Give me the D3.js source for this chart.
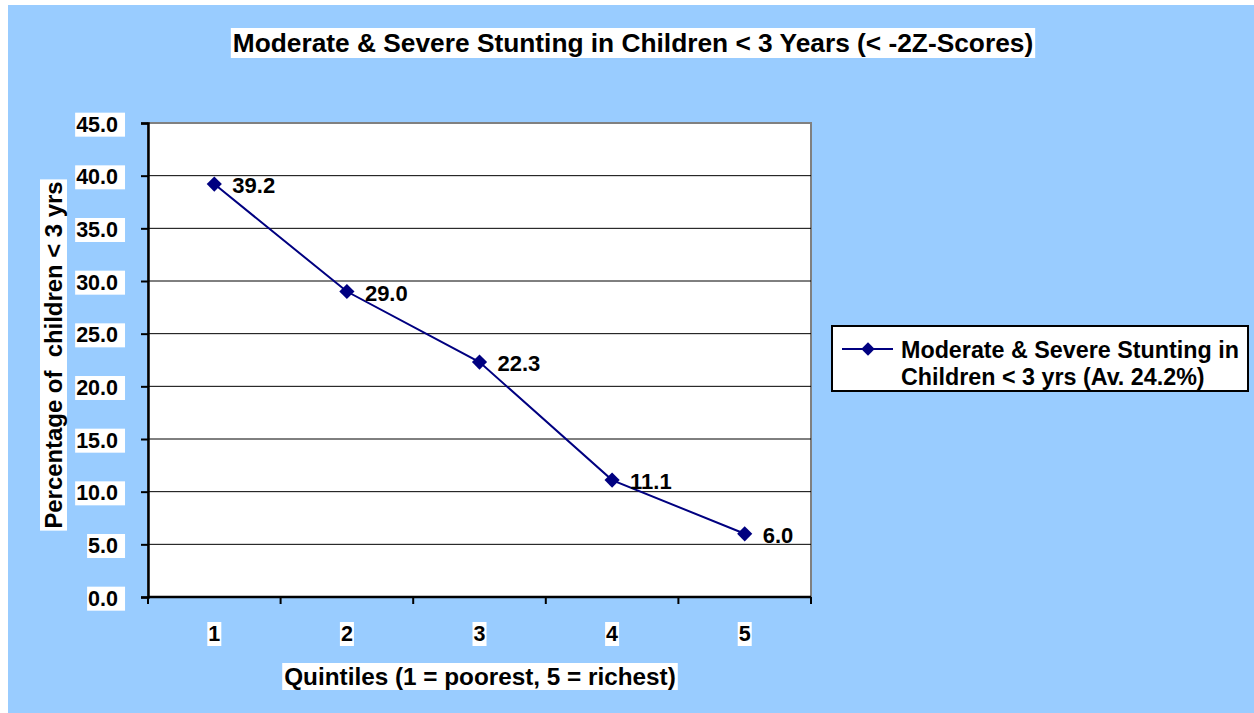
<!DOCTYPE html>
<html lang="en">
<head>
<meta charset="UTF-8">
<title>Moderate & Severe Stunting</title>
<script src="https://d3js.org/d3.v7.min.js"></script>
<style>
  body { margin: 0; background: #fff; }
  text { font-family: "Liberation Sans", Arial, sans-serif; font-weight: bold; fill: #000; }
</style>
</head>
<body>
<div id="chart"></div>
<script>
// data
var quintiles = ["1", "2", "3", "4", "5"];
var stunting = [39.2, 29.0, 22.3, 11.1, 6.0];
var yTicks = [0, 5, 10, 15, 20, 25, 30, 35, 40, 45];
var seriesName = ["Moderate & Severe Stunting in", "Children < 3 yrs (Av. 24.2%)"];
var titleText = "Moderate & Severe Stunting in Children < 3 Years (< -2Z-Scores)";
var yTitle = "Percentage of  children < 3 yrs";
var xTitle = "Quintiles (1 = poorest, 5 = richest)";

var W = 1254, H = 713;
var plot = { left: 148, right: 811, top: 123, bottom: 597 };
var navy = "#000080";

var svg = d3.select("#chart").append("svg")
    .attr("width", W).attr("height", H);

// chart area background
svg.append("rect")
    .attr("x", 8).attr("y", 5).attr("width", W - 8).attr("height", H - 5)
    .attr("fill", "#99ccff");

var x = d3.scaleBand().domain(quintiles).range([plot.left, plot.right]);
var y = d3.scaleLinear().domain([0, 45]).range([plot.bottom, plot.top]);

// text with a white box behind it
function boxedText(g, padL, padR) {
    g.each(function () {
        var t = d3.select(this);
        var b = this.getBBox();
        d3.select(this.parentNode).insert("rect", function () { return t.node(); })
            .attr("x", b.x - padL).attr("y", b.y)
            .attr("width", b.width + padL + padR).attr("height", b.height)
            .attr("fill", "#fff")
            .attr("transform", t.attr("transform"));
    });
}

// title
var tg = svg.append("g");
tg.append("text")
    .attr("x", 633).attr("y", 52)
    .attr("text-anchor", "middle")
    .style("font-size", "26.3px")
    .text(titleText)
    .call(boxedText, 2, 2);

// plot area
svg.append("rect")
    .attr("x", plot.left).attr("y", plot.top)
    .attr("width", plot.right - plot.left).attr("height", plot.bottom - plot.top)
    .attr("fill", "#fff").attr("stroke", "#808080").attr("stroke-width", 2);

// gridlines
svg.append("g").selectAll("line")
    .data(yTicks.filter(d => d > 0 && d < 45))
    .join("line")
    .attr("x1", plot.left).attr("x2", plot.right)
    .attr("y1", d => y(d)).attr("y2", d => y(d))
    .attr("stroke", "#000").attr("stroke-width", 1);

// y axis
var yAxis = svg.append("g")
    .attr("transform", "translate(" + plot.left + ",0)")
    .call(d3.axisLeft(y).tickValues(yTicks).tickFormat(d3.format(".1f")).tickSize(7).tickPadding(23));
yAxis.select(".domain").attr("stroke-width", 2.5);
yAxis.selectAll(".tick line").attr("stroke-width", 2);
yAxis.selectAll("text")
    .attr("font-family", null).attr("font-size", null)
    .style("font-size", "21.5px")
    .attr("dy", "0.38em")
    .call(boxedText, 1, 7);

// x axis (ticks at category boundaries)
var xAxis = svg.append("g")
    .attr("transform", "translate(0," + plot.bottom + ")");
xAxis.append("line")
    .attr("x1", plot.left).attr("x2", plot.right)
    .attr("stroke", "#000").attr("stroke-width", 2.5);
var bounds = quintiles.map(d => x(d)).concat([plot.right]);
xAxis.selectAll(".bt").data(bounds).join("line")
    .attr("x1", d => d).attr("x2", d => d)
    .attr("y1", 0).attr("y2", 7)
    .attr("stroke", "#000").attr("stroke-width", 2);
xAxis.selectAll(".lbl").data(quintiles).join("text")
    .attr("x", d => x(d) + x.bandwidth() / 2)
    .attr("y", 44)
    .attr("text-anchor", "middle")
    .style("font-size", "21.5px")
    .text(d => d)
    .call(boxedText, 1, 1);

// axis titles
var yt = svg.append("g");
yt.append("text")
    .attr("transform", "translate(62,355) rotate(-90)")
    .attr("text-anchor", "middle")
    .attr("xml:space", "preserve")
    .style("white-space", "pre")
    .style("font-size", "23.9px")
    .text(yTitle)
    .call(boxedText, 2, 2);

svg.append("g").append("text")
    .attr("x", 480).attr("y", 685)
    .attr("text-anchor", "middle")
    .style("font-size", "24.3px")
    .text(xTitle)
    .call(boxedText, 2, 2);

// series line
var line = d3.line()
    .x((d, i) => x(quintiles[i]) + x.bandwidth() / 2)
    .y(d => y(d));
svg.append("path")
    .datum(stunting)
    .attr("fill", "none").attr("stroke", navy).attr("stroke-width", 2)
    .attr("d", line);

var diamond = d3.symbol().type(d3.symbolSquare).size(115);
svg.selectAll(".pt").data(stunting).join("path")
    .attr("transform", (d, i) => "translate(" + (x(quintiles[i]) + x.bandwidth() / 2) + "," + y(d) + ") rotate(45)")
    .attr("d", diamond)
    .attr("fill", navy);

// data labels
svg.selectAll(".dl").data(stunting).join("text")
    .attr("x", (d, i) => x(quintiles[i]) + x.bandwidth() / 2 + 18)
    .attr("y", d => y(d) + 9)
    .style("font-size", "22px")
    .text(d => d.toFixed(1));

// legend
var lg = svg.append("g");
lg.append("rect")
    .attr("x", 832).attr("y", 326).attr("width", 416).attr("height", 65)
    .attr("fill", "#fff").attr("stroke", "#000").attr("stroke-width", 2);
lg.append("line")
    .attr("x1", 842).attr("x2", 893).attr("y1", 349).attr("y2", 349)
    .attr("stroke", navy).attr("stroke-width", 2);
lg.append("path")
    .attr("transform", "translate(868,349) rotate(45)")
    .attr("d", d3.symbol().type(d3.symbolSquare).size(90)).attr("fill", navy);
lg.selectAll(".lt").data(seriesName).join("text")
    .attr("x", 901)
    .attr("y", (d, i) => 358 + i * 27)
    .style("font-size", "23.3px")
    .text(d => d);
</script>
</body>
</html>
